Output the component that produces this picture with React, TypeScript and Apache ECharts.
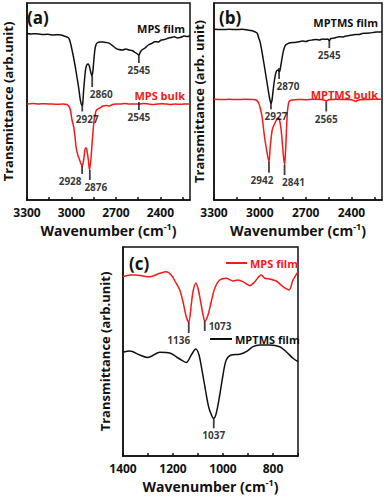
import React, { useEffect, useRef } from "react";
import * as echarts from "echarts";

// ---------- data ----------
// Panel (a): MPS film (black) and MPS bulk (red), [wavenumber, transmittance a.u.]
const mpsFilmA: number[][] = [
  [3300,166.5],[3270,166],[3240,166.3],[3200,165.5],[3160,165.7],[3120,165],[3080,165.3],[3050,164],[3030,163],[3017,161.7],[3005,156],[2996,150],[2985,142],[2974,133],[2963,123],[2952,113],[2940,100],[2930,94.5],[2925,95],[2919,107],[2912,120],[2905,130],[2897,135],[2886,136],[2878,133],[2870,128],[2862,124],[2856,128],[2850,138],[2842,150],[2835,155],[2827,157],[2808,158],[2788,158],[2766,157.5],[2744,156.7],[2720,154],[2700,151.7],[2680,150.5],[2656,150],[2634,151],[2612,150],[2590,149.5],[2570,147.5],[2555,146],[2545,145],[2535,148],[2525,150],[2503,152],[2481,155],[2460,156.5],[2437,158.3],[2415,158],[2393,160],[2372,160.5],[2350,161.7],[2328,162.5],[2306,163.3],[2284,162],[2262,162.7],[2240,164],[2220,163.5],[2200,164]
];
const mpsBulkA: number[][] = [
  [3300,96],[3260,96.5],[3220,96],[3180,96.3],[3140,96],[3100,95.7],[3060,96],[3030,95.5],[3015,93],[3007,90],[2996,80],[2985,73],[2975,62],[2969,53],[2957,45],[2945,40],[2935,36],[2928,34],[2920,38],[2915,43],[2906,52],[2900,52],[2895,49],[2886,40],[2878,30],[2869,40],[2863,52],[2858,62],[2847,80],[2838,87],[2831,90],[2809,92],[2788,94],[2766,94.5],[2744,94],[2722,95.5],[2700,96],[2670,96],[2640,96.5],[2610,96],[2580,96],[2545,96],[2510,96.5],[2480,96],[2450,95.5],[2420,96],[2390,96.3],[2360,96],[2330,95.5],[2300,96],[2270,95.7],[2240,96],[2200,96]
];
// Panel (b): MPTMS film (black) and MPTMS bulk (red)
const mptmsFilmB: number[][] = [
  [3300,170.7],[3250,170.5],[3200,170.7],[3150,170.5],[3116,170.7],[3080,170],[3050,169.3],[3030,168],[3017,166.7],[3007,162],[2996,156.7],[2980,143],[2963,127],[2945,110],[2935,101],[2927,96.7],[2920,100],[2915,106.7],[2904,120],[2893,128.3],[2880,130],[2871,128.3],[2865,132],[2860,136.7],[2849,146.7],[2840,152],[2831,155],[2815,156.5],[2799,157.3],[2770,157.5],[2744,158.3],[2720,159],[2700,158.5],[2680,159.5],[2656,160],[2630,160.5],[2610,160],[2590,161],[2569,160.7],[2555,161],[2545,159.5],[2535,161.5],[2510,162],[2481,163.3],[2460,163],[2437,164],[2415,164.5],[2393,165],[2370,165.5],[2350,165.5],[2330,166.5],[2306,166.7],[2280,167],[2250,167.8],[2220,168],[2200,168.3]
];
const mptmsBulkB: number[][] = [
  [3300,100.7],[3250,100.5],[3200,100.7],[3150,100.5],[3100,100.7],[3050,100.5],[3024,100],[3007,96.7],[2996,91],[2985,83],[2969,63],[2952,46.7],[2940,38.3],[2932,53],[2925,63],[2919,70],[2910,74],[2902,76.7],[2893,79.5],[2886,81.7],[2878,81.5],[2871,80],[2864,74],[2858,66.7],[2852,56],[2847,46.7],[2838,35],[2833,45],[2829,56.7],[2825,72],[2820,86.7],[2815,94],[2809,98.3],[2800,99.5],[2788,100],[2750,100.5],[2700,100.3],[2650,100.7],[2600,100.5],[2580,100],[2565,99],[2550,100.2],[2500,100.7],[2450,100.5],[2400,100.3],[2385,99.5],[2372,98.5],[2360,99.8],[2330,100.3],[2300,100.5],[2250,100.7],[2200,100.7]
];
// Panel (c): MPS film (red) and MPTMS film (black)
const mpsFilmC: number[][] = [
  [1400,179.3],[1373,181],[1347,181],[1320,180],[1293,179.3],[1253,182.7],[1227,184.3],[1207,181],[1187,172.7],[1173,166],[1160,154.3],[1147,139.3],[1137,134],[1127,151],[1120,164.3],[1109,172.7],[1100,167.7],[1087,151],[1077,137.7],[1072,135],[1060,141],[1047,154.3],[1033,167.7],[1013,176],[987,177.7],[960,175],[940,176],[920,174.3],[893,170.3],[873,174.3],[847,181],[833,177.7],[813,177],[787,175],[760,169.3],[736,166],[720,176],[704,182.7],[700,184]
];
const mptmsFilmC: number[][] = [
  [1400,103.7],[1373,105],[1333,101],[1300,98.5],[1253,103.7],[1213,103],[1173,97],[1147,93.5],[1127,101],[1109,107],[1096,101],[1083,84.3],[1069,64.3],[1056,47.7],[1043,39.3],[1037,37.7],[1027,42.7],[1013,61],[1000,81],[987,96],[967,101],[933,101.7],[907,104.3],[880,109.3],[853,111],[813,111],[773,109.3],[747,104.3],[720,97.7],[700,94.3]
];

// peak annotations: [wavenumber, transmittance at tick top, label]
const peaksA: [number, number, string][] = [
  [2927, 94.5, "2927"], [2860, 124, "2860"], [2545, 145, "2545"],
  [2928, 34, "2928"], [2876, 30, "2876"], [2545, 98, "2545"],
];
const peaksB: [number, number, string][] = [
  [2927, 96.7, "2927"], [2874, 132, "2870"], [2545, 160, "2545"],
  [2940, 38.3, "2942"], [2838, 35, "2841"], [2565, 98.5, "2565"],
];
const peaksC: [number, number, string][] = [
  [1137, 134, "1136"], [1073, 135, "1073"], [1037, 37.7, "1037"],
];

const ticksAB = [2250, 2400, 2550, 2700, 2850, 3000, 3150, 3300];
const labelsAB = [2400, 2700, 3000, 3300];
const ticksC = [700, 800, 900, 1000, 1100, 1200, 1300, 1400];
const labelsC = [800, 1000, 1200, 1400];

// ---------- styles ----------
const FONT = "'Open Sans', 'Liberation Sans', Arial, sans-serif";
const RED = "#f71818";
const BLACK = "#111111";

// per-label layout: [tick length, label dx, label dy, position]
const peakLayout: Record<string, [number, number, number, string]> = {
  "2927": [6, 5, 0, "bottom"],
  "2860": [11, 9, 0, "bottom"],
  "2545": [8, 0, 0, "bottom"],
  "2928": [8, -12, 0, "bottom"],
  "2876": [10, 6, 0, "bottom"],
  "2870": [11, 9, 0, "bottom"],
  "2942": [11, -7, 0, "bottom"],
  "2841": [10, 9, 0, "bottom"],
  "2565": [10, 0, 0, "bottom"],
  "1136": [11, -10, 0, "bottom"],
  "1073": [10, 0, 0, "right"],
  "1037": [10, 0, 0, "bottom"],
};

function peakSeries(peaks: [number, number, string][], idx: number) {
  return {
    type: "scatter",
    xAxisIndex: idx,
    yAxisIndex: idx,
    symbol: "rect",
    z: 5,
    silent: true,
    itemStyle: { color: BLACK },
    data: peaks.map(([wn, v, text]) => {
      const [len, dx, dy, pos] = peakLayout[text];
      return {
        value: [wn, v],
        symbolSize: [1.8, len],
        symbolOffset: [0, len / 2],
        label: {
          show: true,
          position: pos,
          distance: pos === "right" ? 3 : 2,
          offset: [dx, dy],
          formatter: text,
          fontFamily: FONT,
          fontSize: 10,
          fontWeight: "bold",
          color: "#000",
        },
      };
    }),
  };
}

function xAxis(gridIndex: number, min: number, max: number, ticks: number[], labels: number[]) {
  return {
    type: "value",
    gridIndex,
    inverse: true,
    min,
    max,
    name: "{a|Wavenumber (cm}{s|-1}{a|)}",
    nameLocation: "middle",
    nameGap: 22,
    nameTextStyle: {
      rich: {
        a: { fontFamily: FONT, fontSize: 14, fontWeight: "bold", color: BLACK },
        s: { fontFamily: FONT, fontSize: 9, fontWeight: "bold", color: BLACK, verticalAlign: "top", padding: [0, 0, 8, 0] },
      },
    },
    axisLine: { show: true, lineStyle: { color: BLACK, width: 1.5 } },
    axisTick: { show: true, inside: true, length: 3, customValues: ticks, lineStyle: { color: BLACK, width: 1.5 } },
    axisLabel: {
      show: true, customValues: labels, margin: 6, fontFamily: FONT, fontSize: 12, fontWeight: "bold", color: BLACK,
      formatter: (v: number) => String(v),
    },
    splitLine: { show: false },
  };
}

function yAxis(gridIndex: number, max: number, name: string, gap: number) {
  return {
    type: "value",
    gridIndex,
    min: 0,
    max,
    name,
    nameLocation: "middle",
    nameGap: gap,
    nameTextStyle: { fontFamily: FONT, fontSize: 13, fontWeight: "bold", color: BLACK },
    axisLine: { show: true, lineStyle: { color: BLACK, width: 1.5 } },
    axisTick: { show: false },
    axisLabel: { show: false },
    splitLine: { show: false },
  };
}

function lineSeries(name: string, data: number[][], color: string, idx: number) {
  return {
    type: "line",
    name,
    xAxisIndex: idx,
    yAxisIndex: idx,
    data,
    smooth: 0.3,
    symbol: "none",
    lineStyle: { color, width: 1.5 },
    itemStyle: { color },
    z: 3,
  };
}

function txt(x: number, y: number, text: string, color: string, size: number, align: string) {
  return {
    type: "text",
    x,
    y,
    silent: true,
    style: { text, fill: color, font: `bold ${size}px ${FONT}`, textAlign: align, textVerticalAlign: "middle" },
  };
}

function seg(x1: number, x2: number, y: number, color: string) {
  return {
    type: "line",
    silent: true,
    shape: { x1, y1: y, x2, y2: y },
    style: { stroke: color, lineWidth: 2 },
  };
}

export default function App() {
  const ref = useRef<HTMLDivElement>(null);
  useEffect(() => {
    if (!ref.current) return;
    const chart = echarts.init(ref.current, null, { renderer: "svg" });
    const gridStyle = { show: true, borderColor: BLACK, borderWidth: 1.5, containLabel: false };
    chart.setOption({
      animation: false,
      backgroundColor: "#ffffff",
      grid: [
        { ...gridStyle, left: 22, top: 3, width: 168, height: 197 },
        { ...gridStyle, left: 214, top: 3, width: 168, height: 197 },
        { ...gridStyle, left: 123, top: 247, width: 175, height: 209 },
      ],
      xAxis: [
        xAxis(0, 2200, 3300, ticksAB, labelsAB),
        xAxis(1, 2200, 3300, ticksAB, labelsAB),
        xAxis(2, 700, 1400, ticksC, labelsC),
      ],
      yAxis: [
        yAxis(0, 197, "Transmittance (arb.unit)", 13),
        yAxis(1, 197, "Transmittance (arb. unit)", 9),
        yAxis(2, 209, "Transmittance (arb.unit)", 12),
      ],
      series: [
        lineSeries("MPS film (a)", mpsFilmA, BLACK, 0),
        lineSeries("MPS bulk (a)", mpsBulkA, RED, 0),
        lineSeries("MPTMS film (b)", mptmsFilmB, BLACK, 1),
        lineSeries("MPTMS bulk (b)", mptmsBulkB, RED, 1),
        lineSeries("MPS film", mpsFilmC, RED, 2),
        lineSeries("MPTMS film", mptmsFilmC, BLACK, 2),
        peakSeries(peaksA, 0),
        peakSeries(peaksB, 1),
        peakSeries(peaksC, 2),
      ],
      graphic: [
        txt(27, 17, "(a)", BLACK, 17, "left"),
        txt(219, 17, "(b)", BLACK, 17, "left"),
        txt(129, 263, "(c)", BLACK, 17, "left"),
        txt(185, 28, "MPS film", BLACK, 11, "right"),
        txt(185, 95, "MPS bulk", RED, 11, "right"),
        txt(378, 22, "MPTMS film", BLACK, 11, "right"),
        txt(378, 94, "MPTMS bulk", RED, 11, "right"),
        seg(226, 247, 263, RED),
        txt(250, 263, "MPS film", RED, 11, "left"),
        seg(210, 232, 339, BLACK),
        txt(235, 339, "MPTMS film", BLACK, 11, "left"),
      ],
    });
    return () => chart.dispose();
  }, []);
  return <div ref={ref} style={{ position: "absolute", left: 0, top: 0, width: 384, height: 496 }} />;
}
